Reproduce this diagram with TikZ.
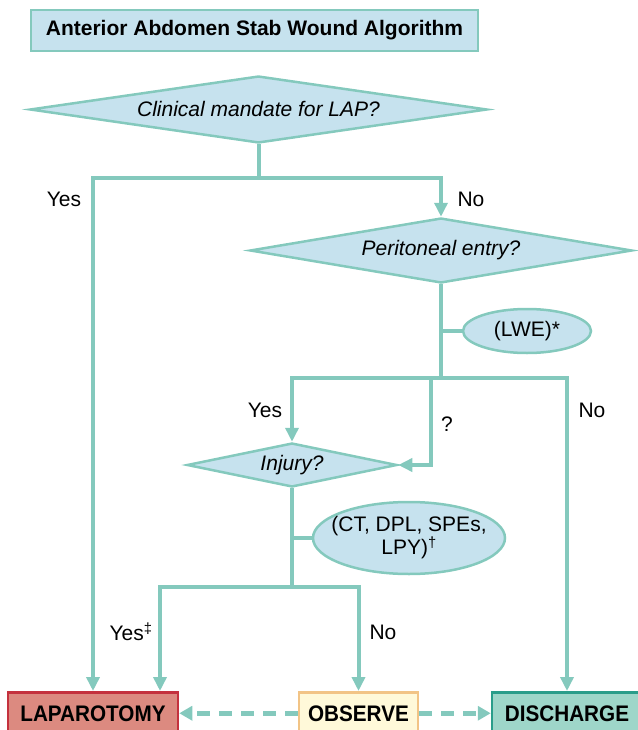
\documentclass[tikz,border=0pt]{standalone}
\usepackage{fontspec}
\setmainfont{Liberation Sans}
\usetikzlibrary{shapes.geometric,arrows.meta}
\definecolor{teal1}{HTML}{84C9BD}
\definecolor{lblue}{HTML}{C6E2EE}
\definecolor{lapfill}{HTML}{DC8A80}
\definecolor{lapdraw}{HTML}{C4323E}
\definecolor{obsfill}{HTML}{FFF9D9}
\definecolor{obsdraw}{HTML}{F2C486}
\definecolor{disfill}{HTML}{9ED6C9}
\definecolor{disdraw}{HTML}{2A9D8A}
\tikzset{
  x=1pt,y=-1pt,
  conn/.style={draw=teal1,line width=4pt},
  arr/.style={conn,-{Triangle[width=13pt,length=14pt]}},
  darr/.style={draw=teal1,line width=5pt,dash pattern=on 13pt off 9pt,-{Triangle[width=14pt,length=13pt]}},
  dia/.style={diamond,draw=teal1,fill=lblue,line width=2.5pt,inner sep=0pt,font=\fontsize{21}{24}\selectfont\itshape},
  ell/.style={ellipse,draw=teal1,fill=lblue,line width=2.5pt,inner sep=0pt,font=\fontsize{21}{23}\selectfont},
  endbox/.style={rectangle,line width=2.5pt,inner sep=0pt,minimum height=42pt,anchor=north,font=\fontsize{22.5}{26}\selectfont\bfseries},
  lbl/.style={font=\fontsize{21}{24}\selectfont,inner sep=0pt}
}
\begin{document}
\begin{tikzpicture}
\useasboundingbox (0,0) rectangle (637,730);
% title
\node[rectangle,draw=teal1,fill=lblue,line width=2.5pt,minimum width=447pt,minimum height=41pt,inner sep=0pt,font=\fontsize{21}{24}\selectfont\bfseries] (title) at (254.5,30.5) {Anterior Abdomen Stab Wound Algorithm};
% decisions
\node[dia,minimum width=457pt,minimum height=67pt,aspect=6.8] (d1) at (258.5,109.5) {Clinical mandate for LAP?};
\node[dia,minimum width=382pt,minimum height=65pt,aspect=5.9] (d2) at (441,250.5) {Peritoneal entry?};
\node[dia,minimum width=210pt,minimum height=44pt,aspect=4.8] (inj) at (292,465) {Injury?};
\node[ell,minimum width=128pt,minimum height=44pt] (lwe) at (527,331) {(LWE)*};
\node[ell,minimum width=192pt,minimum height=72pt] (tests) at (409,538) {};
\node[lbl,align=center,font=\fontsize{21}{23}\selectfont] (teststxt) at (tests.center) {(CT, DPL, SPEs,\\LPY)\textsuperscript{\dag}};
% end boxes
\node[endbox,draw=lapdraw,fill=lapfill,minimum width=170pt] (lap) at (93,691) {\scalebox{0.92}[1]{LAPAROTOMY}};
\node[endbox,draw=obsdraw,fill=obsfill,minimum width=119pt] (obs) at (358.5,691) {\scalebox{0.92}[1]{OBSERVE}};
\node[endbox,draw=disdraw,fill=disfill,minimum width=150pt] (dis) at (567,691) {\scalebox{0.92}[1]{DISCHARGE}};
% junctions
\coordinate (j1) at (258.5,178);
\coordinate (j2) at (441,378);
\coordinate (q) at (431,378);
\coordinate (j3) at (292,587);
\coordinate (lapin) at (160,691);
% connectors
\draw[conn] (d1.south) -- (j1);
\draw[arr] (j1) -| (lap.north);
\draw[arr] (j1) -| (d2.north);
\draw[conn] (d2.south) -- (j2);
\draw[conn] (d2.south |- lwe.west) -- (lwe.west);
\draw[arr] (j2) -| (inj.north);
\draw[arr] (j2) -| (dis.north);
\draw[arr] (q) |- (inj.east);
\draw[conn] (inj.south) -- (j3);
\draw[conn] (inj.south |- tests.west) -- (tests.west);
\draw[arr] (j3) -| (lapin);
\draw[arr] (j3) -| (obs.north);
\draw[darr] (obs.west) -- (lap.east);
\draw[darr] (obs.east) -- (dis.west);
% labels
\node[lbl] (l1) at (64,199) {Yes};
\node[lbl] (l2) at (471,199) {No};
\node[lbl] (l3) at (265,410) {Yes};
\node[lbl] (l4) at (447,424) {?};
\node[lbl] (l5) at (592,410) {No};
\node[lbl] (l6) at (131,632) {Yes\textsuperscript{\ddag}};
\node[lbl] (l7) at (383,632) {No};
\end{tikzpicture}
\end{document}
